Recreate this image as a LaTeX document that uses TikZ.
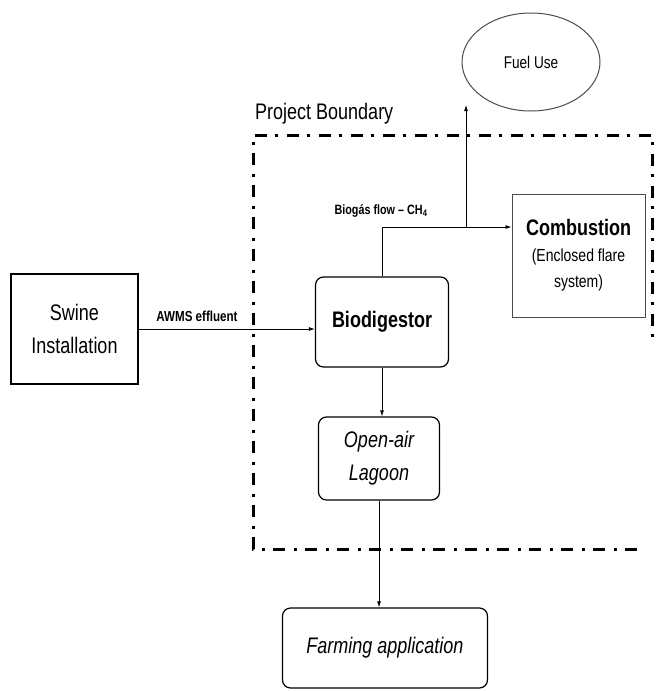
\documentclass[tikz,border=0pt]{standalone}
\usepackage{fontspec}
\setmainfont[FakeStretch=0.8]{Liberation Sans}
\usetikzlibrary{arrows.meta,shapes.geometric}
\begin{document}
\begin{tikzpicture}[x=1pt, y=-1pt,
    unitbox/.style={draw, line width=1.2pt, align=center, inner sep=0pt, font=\fontsize{22.5}{33}\selectfont},
    flow/.style={-{Latex[length=6pt,width=4pt]}, line width=0.8pt},
    flowlabel/.style={font=\bfseries\fontsize{13.5}{15}\selectfont, inner sep=0pt}]
    \useasboundingbox (0,0) rectangle (656,691);

    % project boundary
    \draw[line width=3pt, dash pattern=on 12pt off 8pt on 3pt off 9pt]
        (637,549) -- (253,549) -- (253,135) -- (652,135) -- (652,340);
    \node[anchor=south west, inner sep=0pt, font=\fontsize{22.5}{26}\selectfont] (boundary) at (255,124) {Project Boundary};

    % units
    \node[unitbox, minimum width=127pt, minimum height=110pt] (swine) at (74.5,329) {Swine\\Installation};
    \node[unitbox, rounded corners=8pt, minimum width=133pt, minimum height=90pt, font=\bfseries\fontsize{22.5}{26}\selectfont] (bio) at (382,322) {Biodigestor};
    \node[unitbox, draw=black!70, line width=1pt, minimum width=133pt, minimum height=123pt, font=\fontsize{17.5}{26}\selectfont] (comb) at (578.5,255.5)
        {\textbf{\fontsize{22.5}{26}\selectfont Combustion}\\(Enclosed flare\\system)};
    \node[unitbox, rounded corners=8pt, minimum width=121pt, minimum height=83pt, font=\itshape\fontsize{22.5}{33}\selectfont] (lagoon) at (379,458.5) {Open-air\\Lagoon};
    \node[unitbox, rounded corners=8pt, minimum width=205pt, minimum height=80pt, font=\itshape\fontsize{22.5}{26}\selectfont] (farm) at (385,648) {Farming application};
    \node[ellipse, draw=black!70, line width=1pt, minimum width=138pt, minimum height=98pt, inner sep=0pt, font=\fontsize{17}{19}\selectfont] (fuel) at (531,62) {Fuel Use};

    % flows
    \draw[flow] (swine.east) -- (swine.east -| bio.west);
    \node[flowlabel, font=\bfseries\fontsize{14.5}{16}\selectfont] (awms) at (197,316) {AWMS effluent};

    \coordinate (gas) at (382,227);
    \coordinate (tee) at (466,227);
    \coordinate (fueltip) at (466,105);
    \draw[flow] (bio.north) -- (gas) -- (gas -| comb.west);
    \draw[flow] (tee) -- (fueltip);
    \node[flowlabel] (biogas) at (381,211) {Biogás flow – CH\textsubscript{4}};

    \draw[flow] (bio.south) -- (bio.south |- lagoon.north);
    \draw[flow] (lagoon.south) -- (lagoon.south |- farm.north);
\end{tikzpicture}
\end{document}
